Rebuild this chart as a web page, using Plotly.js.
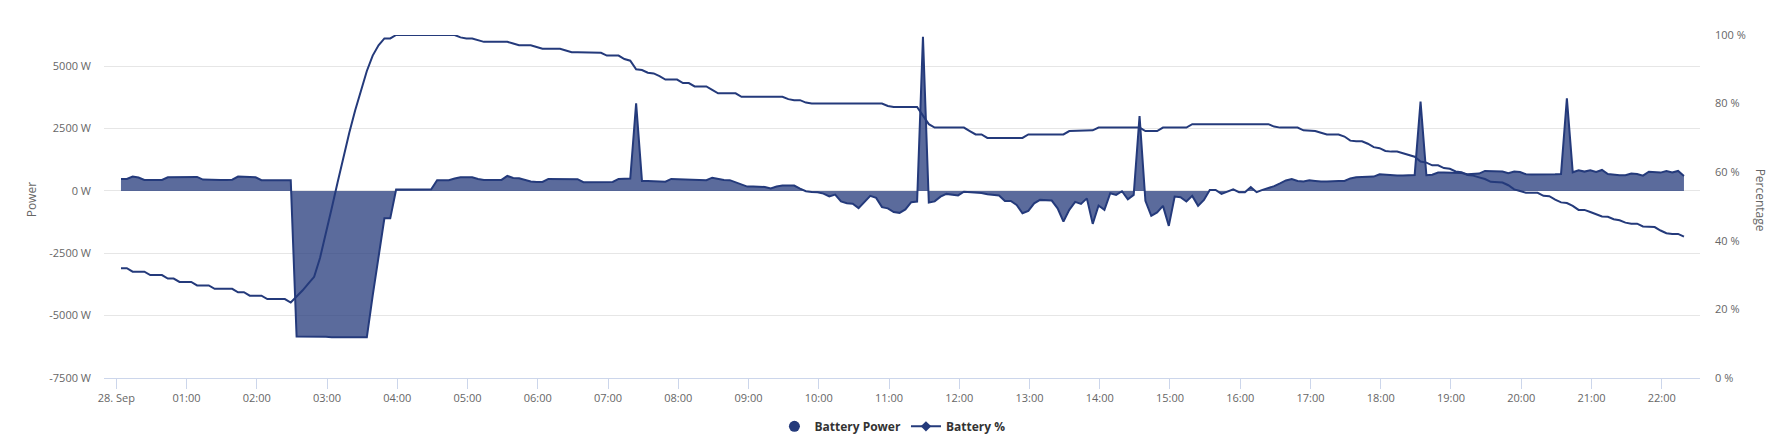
<!DOCTYPE html>
<html>
<head>
<meta charset="utf-8">
<script src="https://cdn.plot.ly/plotly-3.0.1.min.js"></script>
<style>
  html, body { margin: 0; padding: 0; background: #ffffff; }
  #chart { width: 1786px; height: 441px; }
</style>
</head>
<body>
<div id="chart"></div>
<script>
// ---- Data (one sample every 5 minutes, starting 28 Sep 00:04) ----
const chartDay = '2023-09-28';
const firstSampleMinute = 4;
const sampleStepMinutes = 5;

// Battery power in W
const batteryPower = [
  480, 480, 575, 535, 440, 440, 440, 440, 547, 547,
  560, 560, 560, 560, 455, 440, 440, 440, 440, 450,
  575, 575, 560, 547, 430, 427, 427, 427, 427, 427,
  -5834, -5834, -5834, -5834, -5834, -5850, -5870, -5870, -5870, -5870,
  -5870, -5870, -5870, -4200, -2700, -1100, -1100, 53, 53, 53,
  53, 60, 67, 67, 427, 427, 427, 500, 547, 547,
  547, 480, 440, 440, 440, 440, 600, 520, 507, 450,
  380, 360, 360, 480, 480, 480, 480, 480, 470, 350,
  347, 347, 347, 347, 360, 480, 490, 495, 3511, 400,
  400, 400, 390, 370, 480, 470, 455, 455, 455, 455,
  430, 530, 470, 440, 430, 350, 260, 173, 173, 173,
  160, 100, 173, 213, 213, 213, 90, -10, -40, -53,
  -110, -220, -150, -420, -494, -510, -690, -450, -200, -280,
  -650, -700, -850, -880, -740, -450, -427, 6181, -467, -420,
  -230, -120, -150, -180, -30, -40, -67, -80, -133, -160,
  -180, -400, -400, -560, -894, -800, -500, -360, -370, -387,
  -700, -1228, -761, -440, -520, -300, -1322, -587, -761, -93,
  -160, -13, -334, -160, 3004, -400, -1000, -860, -600, -1402,
  -227, -254, -427, -200, -600, -360, 40, 40, -120, -10,
  67, -50, -53, 150, -50, 40, 100, 190, 300, 420,
  480, 400, 374, 430, 400, 374, 380, 400, 400, 400,
  500, 547, 547, 560, 574, 667, 640, 614, 614, 614,
  614, 640, 3578, 627, 650, 734, 734, 734, 734, 720,
  667, 680, 694, 800, 790, 780, 774, 707, 774, 760,
  667, 660, 654, 654, 654, 665, 680, 3711, 747, 827,
  774, 827, 760, 841, 680, 640, 627, 627, 694, 680,
  614, 770, 760, 734, 800, 740, 800, 600
];

// Battery state of charge in %
const batteryPercent = [
  32, 32, 31, 31, 31, 30, 30, 30, 29, 29,
  28, 28, 28, 27, 27, 27, 26, 26, 26, 26,
  25, 25, 24, 24, 24, 23, 23, 23, 23, 22,
  23.6, 25.5, 27.5, 29.5, 35, 42, 49.5, 57, 64.5, 71.5,
  78, 84, 89.5, 94, 97, 99, 99, 100, 100, 100,
  100, 100, 100, 100, 100, 100, 100, 100, 99.3, 99,
  99, 98.5, 98, 98, 98, 98, 98, 97.5, 97, 97,
  97, 96.5, 96, 96, 96, 96, 95.5, 95, 95, 95,
  95, 95, 94.8, 94, 94, 94, 93, 92.5, 90, 89.8,
  89, 88.8, 88, 87, 87, 87, 86, 86, 85, 85,
  85, 84, 83, 83, 83, 83, 82, 82, 82, 82,
  82, 82, 82, 82, 81.3, 81, 81, 80.3, 80, 80,
  80, 80, 80, 80, 80, 80, 80, 80, 80, 80,
  80, 79.3, 79, 79, 79, 79, 79, 76.5, 74, 73,
  73, 73, 73, 73, 73, 72, 71, 71, 70, 70,
  70, 70, 70, 70, 70, 71, 71, 71, 71, 71,
  71, 71, 72, 72, 72, 72, 72.2, 73, 73, 73,
  73, 73, 73, 73, 73, 72, 72, 72, 73, 73,
  73, 73, 73, 74, 74, 74, 74, 74, 74, 74,
  74, 74, 74, 74, 74, 74, 74, 73.3, 73, 73,
  73, 73, 72.2, 72, 72, 71.5, 71, 71, 71, 70.4,
  69.2, 69, 69, 68.3, 67.3, 67, 66.2, 66, 66, 65.5,
  65, 64.5, 63.1, 62.8, 62, 62, 61.2, 61, 60.2, 60,
  59.2, 59, 58.5, 58, 57.2, 57, 57, 56.2, 55, 54.5,
  54, 54, 54, 53.1, 53, 52, 51.2, 51, 50.2, 49,
  49, 48.4, 47.8, 47.1, 47, 46.3, 46, 45.3, 45, 45,
  44.2, 44, 44, 43, 42.2, 42, 42, 41.2
];

// x-axis ticks
const tickTimes = [
  '2023-09-28 00:00', '2023-09-28 01:00', '2023-09-28 02:00', '2023-09-28 03:00',
  '2023-09-28 04:00', '2023-09-28 05:00', '2023-09-28 06:00', '2023-09-28 07:00',
  '2023-09-28 08:00', '2023-09-28 09:00', '2023-09-28 10:00', '2023-09-28 11:00',
  '2023-09-28 12:00', '2023-09-28 13:00', '2023-09-28 14:00', '2023-09-28 15:00',
  '2023-09-28 16:00', '2023-09-28 17:00', '2023-09-28 18:00', '2023-09-28 19:00',
  '2023-09-28 20:00', '2023-09-28 21:00', '2023-09-28 22:00'
];
const tickLabels = [
  '28. Sep', '01:00', '02:00', '03:00', '04:00', '05:00', '06:00', '07:00',
  '08:00', '09:00', '10:00', '11:00', '12:00', '13:00', '14:00', '15:00',
  '16:00', '17:00', '18:00', '19:00', '20:00', '21:00', '22:00'
];
const powerTicks = [-7500, -5000, -2500, 0, 2500, 5000];
const powerTickLabels = ['-7500 W', '-5000 W', '-2500 W', '0 W', '2500 W', '5000 W'];
const percentTicks = [0, 20, 40, 60, 80, 100];
const percentTickLabels = ['0 %', '20 %', '40 %', '60 %', '80 %', '100 %'];

const seriesNames = ['Battery Power', 'Battery %'];
const axisTitles = ['Power', 'Percentage'];

// ---- Build sample timestamps ----
function pad(n) { return (n < 10 ? '0' : '') + n; }
function stamp(minute) {
  return chartDay + ' ' + pad(Math.floor(minute / 60)) + ':' + pad(minute % 60);
}
const sampleTimes = batteryPower.map((_, i) => stamp(firstSampleMinute + i * sampleStepMinutes));

// ---- Styling ----
const navy = '#243a7b';
const navyFill = 'rgba(36,58,123,0.75)';
const font = 'Open Sans, Segoe UI, Arial, sans-serif';

const traces = [
  {
    x: sampleTimes, y: batteryPower, type: 'scatter', mode: 'lines',
    fill: 'tozeroy', fillcolor: navyFill,
    line: { color: navy, width: 2 },
    showlegend: false, hoverinfo: 'skip', yaxis: 'y'
  },
  {
    x: sampleTimes, y: batteryPercent, type: 'scatter', mode: 'lines',
    line: { color: navy, width: 2 },
    showlegend: false, hoverinfo: 'skip', yaxis: 'y2'
  },
  {
    x: [null], y: [null], type: 'scatter', mode: 'markers', name: seriesNames[0],
    marker: { symbol: 'circle', size: 11, color: navy },
    showlegend: true, hoverinfo: 'skip', yaxis: 'y'
  },
  {
    x: [null], y: [null], type: 'scatter', mode: 'lines+markers', name: seriesNames[1],
    line: { color: navy, width: 2 },
    marker: { symbol: 'diamond', size: 8, color: navy },
    showlegend: true, hoverinfo: 'skip', yaxis: 'y2'
  }
];

const layout = {
  width: 1786, height: 441,
  margin: { l: 104, r: 86, t: 35, b: 63, pad: 0, autoexpand: false },
  paper_bgcolor: '#ffffff', plot_bgcolor: '#ffffff',
  font: { family: font, size: 11, color: '#666666' },
  showlegend: true,
  legend: {
    orientation: 'h', x: 0.494, xanchor: 'center', y: -0.141, yanchor: 'middle',
    font: { family: font, size: 12, color: '#333333', weight: 'bold' },
    itemwidth: 30, bgcolor: 'rgba(0,0,0,0)'
  },
  xaxis: {
    type: 'date',
    range: ['2023-09-27 23:49:30', '2023-09-28 22:32:42'],
    tickmode: 'array', tickvals: tickTimes, ticktext: tickLabels,
    ticks: 'outside', ticklen: 10, tickcolor: '#ccd6eb', tickwidth: 1,
    showline: true, linecolor: '#ccd6eb', linewidth: 1,
    showgrid: false, zeroline: false,
    tickfont: { family: font, size: 11, color: '#666666' }
  },
  yaxis: {
    range: [-7500, 6250],
    tickmode: 'array', tickvals: powerTicks, ticktext: powerTickLabels,
    showgrid: true, gridcolor: '#e6e6e6', gridwidth: 1,
    zeroline: true, zerolinecolor: '#e6e6e6', zerolinewidth: 1,
    showline: false, ticks: '', ticklabelstandoff: 12,
    tickfont: { family: font, size: 11, color: '#666666' }
  },
  yaxis2: {
    overlaying: 'y', side: 'right',
    range: [0, 100],
    tickmode: 'array', tickvals: percentTicks, ticktext: percentTickLabels,
    showgrid: false, zeroline: false, showline: false, ticks: '',
    ticklabelstandoff: 14,
    tickfont: { family: font, size: 11, color: '#666666' }
  },
  annotations: [
    {
      text: axisTitles[0], xref: 'paper', yref: 'paper', x: -0.0453, y: 0.52,
      xanchor: 'center', yanchor: 'middle', textangle: -90, showarrow: false,
      font: { family: font, size: 12, color: '#666666' }
    },
    {
      text: axisTitles[1], xref: 'paper', yref: 'paper', x: 1.0376, y: 0.52,
      xanchor: 'center', yanchor: 'middle', textangle: 90, showarrow: false,
      font: { family: font, size: 12, color: '#666666' }
    }
  ]
};

Plotly.newPlot('chart', traces, layout, { staticPlot: true, displayModeBar: false });
</script>
</body>
</html>
